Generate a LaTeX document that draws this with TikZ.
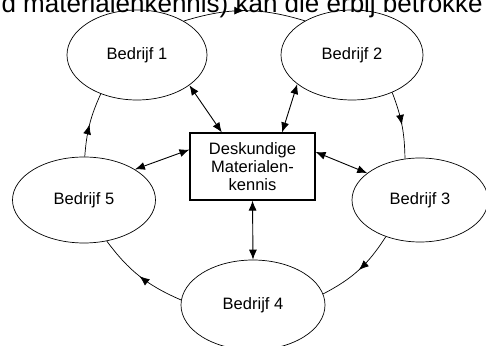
\documentclass[tikz,border=0pt]{standalone}
\usepackage{fontspec}
\setmainfont{Liberation Sans}
\usetikzlibrary{shapes.geometric,arrows.meta,decorations.markings}

\begin{document}
\begin{tikzpicture}[x=1pt,y=1pt]

\tikzset{firm/.style={draw,ellipse,line width=0.7pt,inner sep=0pt,font=\fontsize{16.5}{18}\selectfont}}
\tikzset{kennis/.style={draw,rectangle,line width=1.1pt,minimum width=125pt,minimum height=67pt,align=center,font=\fontsize{16.5}{18}\selectfont}}
\tikzset{toBox/.style={{Latex[length=10pt,width=8pt]}-{Latex[length=10pt,width=8pt]},line width=0.9pt}}
\tikzset{toFirm/.style={line width=0.7pt,postaction={decorate},decoration={markings,mark=at position 0.5 with {\arrow{Latex[length=10pt,width=8pt]}}}}}

\useasboundingbox (0,0) rectangle (486,345);
\clip (0,0) rectangle (486,345);

\node[anchor=base west,font=\fontsize{26}{30}\selectfont] (kop) at (-2,332) {d materialenkennis) kan die erbij betrokke};

\node[kennis] (K) at (252.5,178.5) {Deskundige\\Materialen-\\kennis};

\node[firm,minimum width=140pt,minimum height=90pt] (b1) at (137,290) {Bedrijf 1};
\node[firm,minimum width=142pt,minimum height=90pt] (b2) at (352,290) {Bedrijf 2};
\node[firm,minimum width=136pt,minimum height=84pt] (b3) at (420,145) {Bedrijf 3};
\node[firm,minimum width=144pt,minimum height=90pt] (b4) at (253,40) {Bedrijf 4};
\node[firm,minimum width=143pt,minimum height=86pt] (b5) at (84,145) {Bedrijf 5};

% kennis <-> bedrijven
\draw[toBox] (b1.-30) -- (K.132);
\draw[toBox] (b2.208) -- (K.49);
\draw[toBox] (b5.31) -- (K.165);
\draw[toBox] (K.13) -- (b3.153);
\draw[toBox] (K.south) -- (b4.north);

% kringloop
\draw[toFirm] (b1.36) to[bend left=17] (b2.144);
\draw[toFirm] (b2.-43) to[bend left=10] (b3.110);
\draw[toFirm] (b3.227) to[bend left=15] (b4.9);
\draw[toFirm] (b4.176) to[bend left=15] (b5.-61);
\draw[toFirm] (b5.89) to[bend left=10] (b1.-133);

\end{tikzpicture}
\end{document}
